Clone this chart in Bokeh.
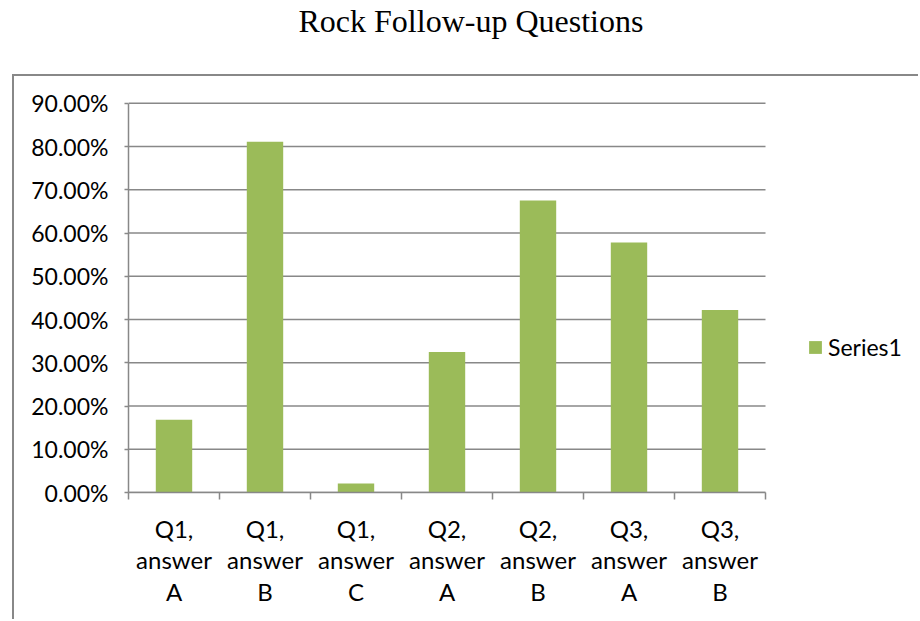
from bokeh.plotting import figure
from bokeh.layouts import column
from bokeh.models import (NumeralTickFormatter, Legend, LegendItem,
                          FixedTicker, Range1d, Title)
from bokeh.embed import file_html
from bokeh.resources import INLINE

# Follow-up question answer shares
categories = ["Q1,\nanswer\nA", "Q1,\nanswer\nB", "Q1,\nanswer\nC",
              "Q2,\nanswer\nA", "Q2,\nanswer\nB",
              "Q3,\nanswer\nA", "Q3,\nanswer\nB"]
series1 = [0.168, 0.811, 0.021, 0.325, 0.675, 0.578, 0.422]
y_ticks = [0.0, 0.1, 0.2, 0.3, 0.4, 0.5, 0.6, 0.7, 0.8, 0.9]
chart_title = "Rock Follow-up Questions"

GREEN = "#9BBB59"
GRID = "#888888"
FONT = "Lato"

# layout geometry (pixels)
BOX_W, BOX_H = 906, 545          # bordered chart box
PLOT_LEFT, PLOT_W = 114, 637     # plot area inside the box
PAD_TOP, PAD_BOTTOM = 16, 129

n = len(categories)
centers = [i + 0.5 for i in range(n)]
bounds = [float(i) for i in range(n + 1)]
frame_w = BOX_W - PLOT_LEFT
x_end = n * frame_w / PLOT_W
y_top = 0.925

# --- title strip: a figure whose only content is its title ---
head = figure(width=920, height=74, output_backend="svg", toolbar_location=None,
              x_axis_type=None, y_axis_type=None, min_border=0,
              x_range=Range1d(0, 1), y_range=Range1d(0, 1))
head.grid.visible = False
head.outline_line_color = None
head.title = Title(text=chart_title, align="left", offset=184,
                   text_font="Liberation Serif", text_font_size="32px",
                   text_font_style="normal", text_color="black",
                   standoff=0)

# --- bar chart in a bordered box ---
p = figure(width=BOX_W, height=BOX_H, x_range=Range1d(0, x_end),
           y_range=Range1d(0, y_top), output_backend="svg",
           toolbar_location=None,
           min_border_left=PLOT_LEFT, min_border_right=0,
           min_border_top=PAD_TOP, min_border_bottom=PAD_BOTTOM)
p.margin = (0, 0, 0, 12)
p.styles = {"border-left": f"2px solid {GRID}", "border-top": f"2px solid {GRID}"}
p.outline_line_color = None
p.xgrid.visible = False
p.ygrid.visible = False

# horizontal gridlines across the category span
p.segment(x0=[bounds[0]] * len(y_ticks), x1=[bounds[-1]] * len(y_ticks),
          y0=y_ticks, y1=y_ticks, line_color=GRID, line_width=1.5)

bars = p.vbar(x=centers, top=series1, width=0.4, fill_color=GREEN,
              line_color=None)

p.yaxis.ticker = FixedTicker(ticks=y_ticks)
p.yaxis.formatter = NumeralTickFormatter(format="0.00%")
p.yaxis.bounds = (0, 0.9)
p.yaxis.axis_line_color = GRID
p.yaxis.axis_line_width = 1.5
p.yaxis.major_tick_line_color = GRID
p.yaxis.major_tick_line_width = 1.5
p.yaxis.major_tick_out = 4
p.yaxis.major_tick_in = 0
p.yaxis.minor_tick_line_color = None
p.yaxis.major_label_standoff = 16
p.yaxis.major_label_text_font = FONT
p.yaxis.major_label_text_font_size = "23px"
p.yaxis.major_label_text_color = "black"

p.xaxis.ticker = FixedTicker(ticks=centers, minor_ticks=bounds)
p.xaxis.major_label_overrides = {c: lab for c, lab in zip(centers, categories)}
p.xaxis.bounds = (bounds[0], bounds[-1])
p.xaxis.axis_line_color = GRID
p.xaxis.axis_line_width = 1.5
p.xaxis.major_tick_line_color = None
p.xaxis.major_tick_out = 0
p.xaxis.major_tick_in = 0
p.xaxis.minor_tick_line_color = GRID
p.xaxis.minor_tick_line_width = 1.5
p.xaxis.minor_tick_out = 7
p.xaxis.minor_tick_in = 0
p.xaxis.major_label_standoff = 14
p.xaxis.major_label_text_font = FONT
p.xaxis.major_label_text_font_size = "24px"
p.xaxis.major_label_text_color = "black"
p.xaxis.major_label_text_line_height = 1.09

legend = Legend(items=[LegendItem(label="Series1", renderers=[bars])],
                location=(679, 131), border_line_color=None,
                background_fill_alpha=0, padding=0, margin=0,
                glyph_width=16, glyph_height=16, label_standoff=5,
                label_text_font=FONT, label_text_font_size="23px",
                label_text_color="black")
p.add_layout(legend, "center")

layout = column(head, p, spacing=0)
open("out.html", "w").write(file_html(layout, INLINE))
